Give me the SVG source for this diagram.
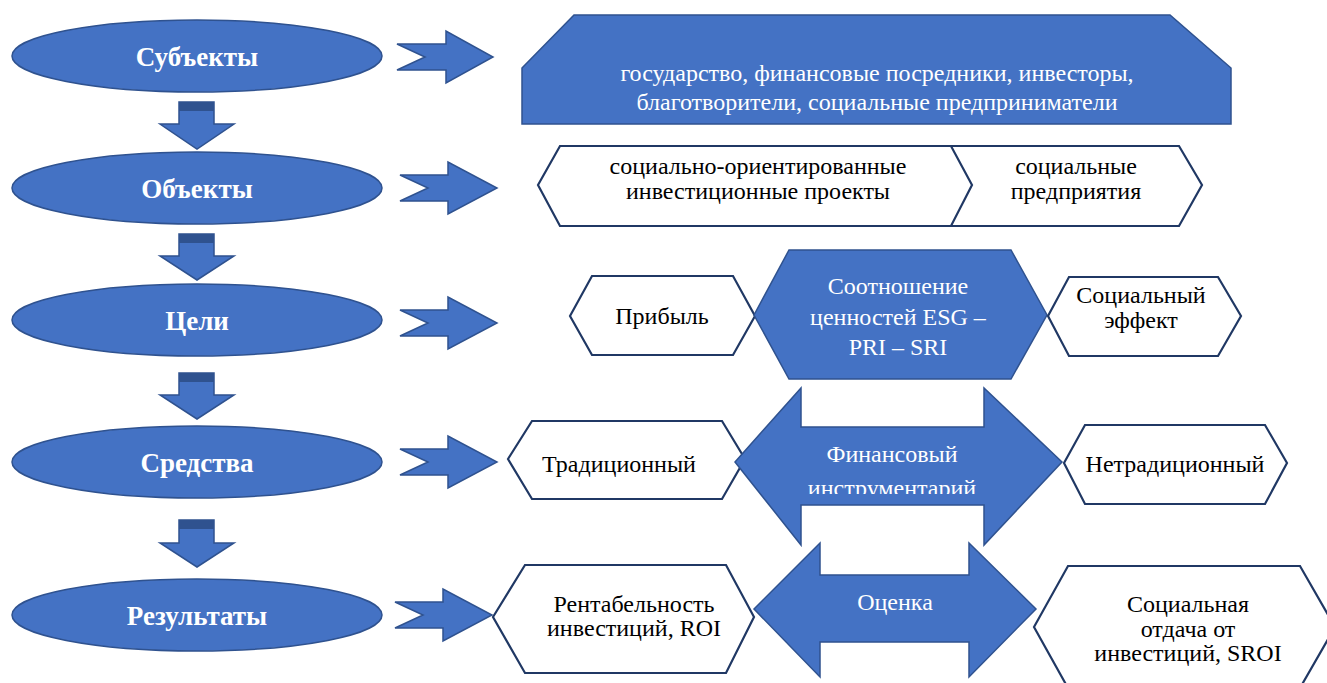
<svg xmlns="http://www.w3.org/2000/svg" width="1327" height="683" viewBox="0 0 1327 683">
<style>
.bl{fill:#4472C4;stroke:#2F528F;stroke-width:1.5}
.hx{fill:#fff;stroke:#203864;stroke-width:2.2;stroke-linejoin:miter}
.band{fill:#2F528F}
.el{font-family:"Liberation Serif","Times New Roman",serif;font-weight:bold;font-size:27px;fill:#fff;text-anchor:middle}
.w{font-family:"Liberation Serif","Times New Roman",serif;font-size:24px;fill:#fff;text-anchor:middle}
.k{font-family:"Liberation Serif","Times New Roman",serif;font-size:24px;fill:#000;text-anchor:middle}
</style>
<defs>
<clipPath id="fclip"><rect x="730" y="380" width="340" height="114"/></clipPath>
</defs>
<rect width="1327" height="683" fill="#fff"/>

<g id="connectors">
<path class="bl" d="M397,44 L446,44 L446,31 L493,57 L446,83 L446,70 L397,70 L425,57 Z"/>
<path class="bl" d="M400,175 L448,175 L448,162 L497,188 L448,214 L448,201 L400,201 L428,188 Z"/>
<path class="bl" d="M400,310 L448,310 L448,297 L497,323 L448,349 L448,336 L400,336 L428,323 Z"/>
<path class="bl" d="M400,449 L448,449 L448,436 L497,462 L448,488 L448,475 L400,475 L428,462 Z"/>
<path class="bl" d="M395,602 L443,602 L443,589 L492,615 L443,641 L443,628 L395,628 L423,615 Z"/>
<g>
<path class="bl" d="M179,102 L214,102 L214,124 L234,124 L197,149 L160,124 L179,124 Z"/>
<rect class="band" x="179" y="102" width="35" height="9"/>
</g>
<g>
<path class="bl" d="M179,234 L214,234 L214,256 L234,256 L197,280 L160,256 L179,256 Z"/>
<rect class="band" x="179" y="234" width="35" height="9"/>
</g>
<g>
<path class="bl" d="M179,373 L214,373 L214,395 L234,395 L197,419 L160,395 L179,395 Z"/>
<rect class="band" x="179" y="373" width="35" height="9"/>
</g>
<g>
<path class="bl" d="M179,520 L214,520 L214,543 L234,543 L197,567 L160,543 L179,543 Z"/>
<rect class="band" x="179" y="520" width="35" height="9"/>
</g>
</g>

<g id="n-subjects">
<ellipse class="bl" cx="197" cy="56" rx="185" ry="36"/>
<text class="el" x="197" y="66">Субъекты</text>
</g>
<g id="n-objects">
<ellipse class="bl" cx="197" cy="188" rx="185" ry="36"/>
<text class="el" x="197" y="198">Объекты</text>
</g>
<g id="n-goals">
<ellipse class="bl" cx="197" cy="320" rx="185" ry="36"/>
<text class="el" x="197" y="330">Цели</text>
</g>
<g id="n-means">
<ellipse class="bl" cx="197" cy="462" rx="185" ry="36"/>
<text class="el" x="197" y="472">Средства</text>
</g>
<g id="n-results">
<ellipse class="bl" cx="197" cy="615" rx="185" ry="36"/>
<text class="el" x="197" y="625">Результаты</text>
</g>

<g id="n-subjects-list">
<path class="bl" d="M522,68 L574,15 L1170,15 L1231,68 L1231,124 L522,124 Z"/>
<text class="w" x="877" y="81">государство, финансовые посредники, инвесторы,</text>
<text class="w" x="877" y="110">благотворители, социальные предприниматели</text>
</g>

<g id="n-enterprises">
<path class="hx" d="M945,146 L1179,146 L1202,185 L1179,226 L945,226 L966,185 Z"/>
<text class="k" x="1076" y="174">социальные</text>
<text class="k" x="1076" y="199">предприятия</text>
</g>
<g id="n-projects">
<path class="hx" d="M538,185 L560,146 L951,146 L972,185 L951,226 L560,226 Z"/>
<text class="k" x="758" y="174">социально-ориентированные</text>
<text class="k" x="758" y="199">инвестиционные проекты</text>
</g>

<g id="n-profit">
<path class="hx" d="M570,316 L592,276 L733,276 L755,316 L733,355 L592,355 Z"/>
<text class="k" x="662" y="324">Прибыль</text>
</g>
<g id="n-esg">
<path class="bl" d="M754,315 L789,250 L1011,250 L1047,315 L1011,379 L789,379 Z"/>
<text class="w" x="898" y="294">Соотношение</text>
<text class="w" x="898" y="325">ценностей ESG –</text>
<text class="w" x="898" y="355">PRI – SRI</text>
</g>
<g id="n-social-effect">
<path class="hx" d="M1048,316 L1069,277 L1218,277 L1241,316 L1218,356 L1069,356 Z"/>
<text class="k" x="1141" y="303">Социальный</text>
<text class="k" x="1141" y="328">эффект</text>
</g>

<g id="n-traditional">
<path class="hx" d="M508,459 L532,421 L722,421 L745,459 L722,499 L532,499 Z"/>
<text class="k" x="619" y="472">Традиционный</text>
</g>
<g id="n-fin-tools">
<path class="bl" d="M735,462 L801,388 L801,427 L984,427 L984,388 L1062,462 L984,545 L984,505 L801,505 L801,545 Z"/>
<text class="w" x="892" y="462">Финансовый</text>
<text class="w" x="892" y="496" clip-path="url(#fclip)">инструментарий</text>
</g>
<g id="n-nontraditional">
<path class="hx" d="M1064,463 L1085,425 L1265,425 L1287,463 L1265,504 L1085,504 Z"/>
<text class="k" x="1175" y="472">Нетрадиционный</text>
</g>

<g id="n-roi">
<path class="hx" d="M493,617 L525,565 L726,565 L754,617 L726,673 L525,673 Z"/>
<text class="k" x="634" y="612">Рентабельность</text>
<text class="k" x="634" y="636">инвестиций, ROI</text>
</g>
<g id="n-assessment">
<path class="bl" d="M754,609 L820,543 L820,575 L969,575 L969,543 L1036,609 L969,677 L969,642 L820,642 L820,677 Z"/>
<text class="w" x="895" y="610">Оценка</text>
</g>
<g id="n-sroi">
<path class="hx" d="M1034,627 L1068,566 L1300,566 L1335,627 L1300,688 L1068,688 Z"/>
<text class="k" x="1188" y="612">Социальная</text>
<text class="k" x="1188" y="637">отдача от</text>
<text class="k" x="1188" y="661">инвестиций, SROI</text>
</g>
</svg>
